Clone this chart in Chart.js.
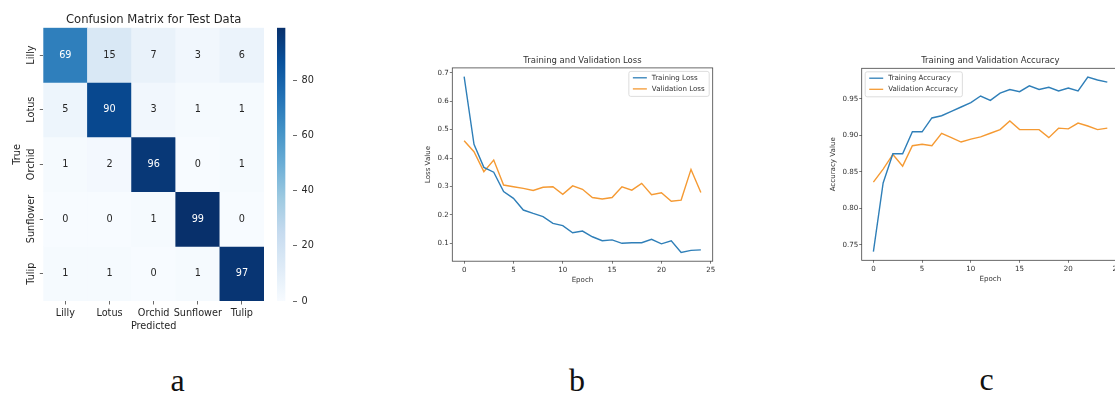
<!DOCTYPE html>
<html><head><meta charset="utf-8">
<script src="https://cdn.jsdelivr.net/npm/chart.js@4.4.1/dist/chart.umd.min.js"></script>
<style>
html,body{margin:0;padding:0;background:#fff;overflow:hidden;width:1115px;height:397px;}
#wrap{position:relative;width:1115px;height:397px;overflow:hidden;background:#fff;}
canvas{position:absolute;}
.lab{position:absolute;width:40px;text-align:center;font-family:"Liberation Serif",serif;font-size:32px;line-height:32px;color:#111;}
</style></head><body><div id="wrap">
<canvas id="hm" width="270" height="340" style="left:0;top:0"></canvas>
<canvas id="cb" width="60" height="340" style="left:270px;top:0"></canvas>
<canvas id="loss" width="310" height="255" style="left:410px;top:40px"></canvas>
<canvas id="acc" width="310" height="255" style="left:820px;top:40px"></canvas>
<div class="lab" style="left:157.5px;top:364px">a</div>
<div class="lab" style="left:557px;top:364px">b</div>
<div class="lab" style="left:966.5px;top:363px">c</div>
</div>
<script>
// ---------- data ----------
const classes = ['Lilly', 'Lotus', 'Orchid', 'Sunflower', 'Tulip'];
const confusion = [
  [69, 15, 7, 3, 6],
  [5, 90, 3, 1, 1],
  [1, 2, 96, 0, 1],
  [0, 0, 1, 99, 0],
  [1, 1, 0, 1, 97]
];
const colorbarTicks = [0, 20, 40, 60, 80];
const epochs = [0,1,2,3,4,5,6,7,8,9,10,11,12,13,14,15,16,17,18,19,20,21,22,23,24];
const trainLoss = [0.686,0.448,0.367,0.350,0.282,0.258,0.217,0.205,0.194,0.170,0.162,0.137,0.143,0.123,0.109,0.112,0.100,0.102,0.102,0.114,0.098,0.109,0.068,0.075,0.077];
const valLoss   = [0.461,0.422,0.352,0.393,0.305,0.299,0.293,0.286,0.297,0.299,0.272,0.302,0.290,0.261,0.256,0.261,0.299,0.287,0.311,0.271,0.278,0.248,0.252,0.360,0.279];
const trainAcc  = [0.741,0.835,0.875,0.875,0.905,0.905,0.924,0.927,0.933,0.939,0.945,0.954,0.948,0.958,0.963,0.960,0.968,0.963,0.966,0.961,0.965,0.961,0.980,0.976,0.973];
const valAcc    = [0.836,0.854,0.874,0.858,0.886,0.888,0.886,0.903,0.897,0.891,0.895,0.898,0.903,0.908,0.920,0.908,0.908,0.908,0.897,0.910,0.909,0.917,0.913,0.908,0.910];
const lossTicks = [0.1, 0.2, 0.3, 0.4, 0.5, 0.6, 0.7];
const accTicks = [0.75, 0.80, 0.85, 0.90, 0.95];
const epochTicks = [0, 5, 10, 15, 20, 25];

// ---------- helpers ----------
Chart.defaults.font.family = '"DejaVu Sans"';
const BLUES = ['#f7fbff','#deebf7','#c6dbef','#9ecae1','#6baed6','#4292c6','#2171b5','#08519c','#08306b'];
const colorMax = Math.max(...confusion.flat());
function hexToRgb(h){return [parseInt(h.slice(1,3),16),parseInt(h.slice(3,5),16),parseInt(h.slice(5,7),16)];}
function blues(t){
  t = Math.max(0, Math.min(1, t));
  const s = t * (BLUES.length - 1);
  const i = Math.min(BLUES.length - 2, Math.floor(s));
  const f = s - i;
  const a = hexToRgb(BLUES[i]), b = hexToRgb(BLUES[i+1]);
  return a.map((v,k)=>Math.round(v + (b[k]-v)*f));
}
function rgbStr(c){return 'rgb('+c[0]+','+c[1]+','+c[2]+')';}
function lum(rgb){
  const c = rgb.map(v=>{v/=255; return v<=0.03928 ? v/12.92 : Math.pow((v+0.055)/1.055, 2.4);});
  return 0.2126*c[0] + 0.7152*c[1] + 0.0722*c[2];
}
const TXT = '#262626';

// ---------- heatmap ----------
const hmFont = 9.7;
const heatmapText = {
  id: 'heatmapText',
  afterDatasetsDraw(chart){
    const ctx = chart.ctx, a = chart.chartArea;
    ctx.save();
    ctx.font = hmFont + 'px "DejaVu Sans"';
    ctx.textAlign = 'center'; ctx.textBaseline = 'middle';
    chart.data.datasets.forEach((ds, r) => {
      chart.getDatasetMeta(r).data.forEach((bar, c) => {
        const v = confusion[r][c];
        ctx.fillStyle = lum(blues(v / colorMax)) > 0.408 ? TXT : '#ffffff';
        ctx.fillText(String(v), bar.x, (bar.y + bar.base) / 2);
      });
    });
    const ys = chart.scales.y;
    ctx.fillStyle = TXT;
    classes.forEach((name, r) => {
      const y = ys.getPixelForValue(r + 0.5);
      ctx.save(); ctx.translate(a.left - 11.8, y); ctx.rotate(-Math.PI/2);
      ctx.fillText(name, 0, 0); ctx.restore();
    });
    ctx.save(); ctx.translate(17.5, (a.top + a.bottom)/2 - 10); ctx.rotate(-Math.PI/2);
    ctx.fillText('True', 0, 0); ctx.restore();
    ctx.font = '11.6px "DejaVu Sans"';
    ctx.textBaseline = 'alphabetic';
    ctx.fillText('Confusion Matrix for Test Data', (a.left + a.right)/2, a.top - 4.4);
    ctx.restore();
  }
};

new Chart(document.getElementById('hm'), {
  type: 'bar',
  data: {
    labels: classes,
    datasets: confusion.map((row, r) => ({
      label: classes[r],
      data: row.map(() => [r, r + 1]),
      backgroundColor: row.map(v => rgbStr(blues(v / colorMax))),
      borderWidth: 0,
      barPercentage: 1,
      categoryPercentage: 1,
      grouped: false
    }))
  },
  options: {
    responsive: false, animation: false, devicePixelRatio: 1, events: [],
    layout: { padding: { left: 0, right: 6, top: 27.7, bottom: 0 } },
    plugins: { legend: { display: false }, tooltip: { enabled: false } },
    scales: {
      x: {
        type: 'category',
        grid: { drawOnChartArea: false, drawTicks: true, tickLength: 3.5, offset: false, color: '#444', lineWidth: 0.8 },
        border: { display: false },
        ticks: { font: { size: hmFont }, color: TXT, padding: 2.7, maxRotation: 0, autoSkip: false },
        title: { display: true, text: 'Predicted', color: TXT, font: { size: hmFont }, padding: { top: 0, bottom: 8.2 } },
        afterFit: s => { s.height = 39; }
      },
      y: {
        type: 'linear', min: 0, max: 5, reverse: true,
        afterBuildTicks: s => { s.ticks = classes.map((c, i) => ({ value: i + 0.5 })); },
        grid: { drawOnChartArea: false, drawTicks: true, tickLength: 3.5, color: '#444', lineWidth: 0.8 },
        border: { display: false },
        ticks: { display: false },
        afterFit: s => { s.width = 43.3; }
      }
    }
  },
  plugins: [heatmapText]
});

// ---------- colorbar ----------
new Chart(document.getElementById('cb'), {
  type: 'bar',
  data: {
    labels: [''],
    datasets: [{
      data: [[0, colorMax]],
      borderWidth: 0,
      barPercentage: 1, categoryPercentage: 1,
      backgroundColor: (c) => {
        const ch = c.chart, ys = ch.scales.y;
        if (!ys || !ch.chartArea) return BLUES[0];
        const g = ch.ctx.createLinearGradient(0, ys.getPixelForValue(0), 0, ys.getPixelForValue(colorMax));
        BLUES.forEach((col, i) => g.addColorStop(i / (BLUES.length - 1), col));
        return g;
      }
    }]
  },
  options: {
    responsive: false, animation: false, devicePixelRatio: 1, events: [],
    layout: { padding: { left: 7, right: 0, top: 27.7, bottom: 39 } },
    plugins: { legend: { display: false }, tooltip: { enabled: false } },
    scales: {
      x: { display: false, offset: false },
      y: {
        position: 'right', min: 0, max: colorMax,
        afterBuildTicks: s => { s.ticks = colorbarTicks.map(v => ({ value: v })); },
        grid: { drawOnChartArea: false, drawTicks: true, tickLength: 4, color: '#444', lineWidth: 0.8 },
        border: { display: false },
        ticks: { font: { size: hmFont }, color: TXT, padding: 4.5, callback: v => String(v) },
        afterFit: s => { s.width = 37; }
      }
    }
  }
});

// ---------- line charts ----------
const BLUE = '#2f7fb8', ORANGE = '#f59a33';
const smallFont = 7.1;
const axesDecor = {
  id: 'axesDecor',
  afterDraw(chart, args, opts){
    const ctx = chart.ctx, a = chart.chartArea;
    ctx.save();
    ctx.strokeStyle = '#444'; ctx.lineWidth = 0.8;
    ctx.strokeRect(a.left, a.top, a.right - a.left, a.bottom - a.top);
    ctx.fillStyle = '#333';
    ctx.font = '8.5px "DejaVu Sans"';
    ctx.textAlign = 'center'; ctx.textBaseline = 'alphabetic';
    ctx.fillText(opts.title, (a.left + a.right)/2, a.top - 5);
    // legend
    ctx.font = smallFont + 'px "DejaVu Sans"';
    const ds = chart.data.datasets;
    const tw = Math.max(...ds.map(d => ctx.measureText(d.label).width));
    const w = 23 + tw + 4.5, h = 25, pad = 3.5;
    const x0 = opts.corner === 'ur' ? a.right - pad - w : a.left + pad;
    const y0 = a.top + pad;
    ctx.beginPath();
    if (ctx.roundRect) ctx.roundRect(x0, y0, w, h, 2); else ctx.rect(x0, y0, w, h);
    ctx.fillStyle = 'rgba(255,255,255,0.85)'; ctx.fill();
    ctx.strokeStyle = '#d4d4d4'; ctx.lineWidth = 0.8; ctx.stroke();
    ctx.textAlign = 'left'; ctx.textBaseline = 'middle';
    ds.forEach((d, i) => {
      const y = y0 + 6.4 + i * 11.1;
      ctx.beginPath(); ctx.moveTo(x0 + 4, y); ctx.lineTo(x0 + 18, y);
      ctx.strokeStyle = d.borderColor; ctx.lineWidth = 1.3; ctx.stroke();
      ctx.fillStyle = '#333';
      ctx.fillText(d.label, x0 + 23, y);
    });
    ctx.restore();
  }
};

function lineChart(id, cfg){
  return new Chart(document.getElementById(id), {
    type: 'line',
    data: {
      datasets: [
        { label: cfg.labels[0], data: epochs.map((e, i) => ({ x: e, y: cfg.series[0][i] })), borderColor: BLUE, borderWidth: 1.4, pointRadius: 0, tension: 0, fill: false },
        { label: cfg.labels[1], data: epochs.map((e, i) => ({ x: e, y: cfg.series[1][i] })), borderColor: ORANGE, borderWidth: 1.4, pointRadius: 0, tension: 0, fill: false }
      ]
    },
    options: {
      responsive: false, animation: false, devicePixelRatio: 1, events: [],
      layout: { padding: cfg.padding },
      plugins: { legend: { display: false }, tooltip: { enabled: false }, axesDecor: { title: cfg.title, corner: cfg.corner } },
      scales: {
        x: {
          type: 'linear', min: -1.2, max: 25.2,
          afterBuildTicks: s => { s.ticks = epochTicks.map(v => ({ value: v })); },
          grid: { drawOnChartArea: false, drawTicks: true, tickLength: 2.5, color: '#444', lineWidth: 0.7 },
          border: { display: false },
          ticks: { font: { size: smallFont }, color: '#333', padding: 2, maxRotation: 0, callback: v => String(v) },
          title: { display: true, text: 'Epoch', color: '#333', font: { size: smallFont }, padding: { top: 0, bottom: cfg.xTitlePad } },
          afterFit: s => { s.height = cfg.xHeight; }
        },
        y: {
          type: 'linear', min: cfg.ymin, max: cfg.ymax,
          afterBuildTicks: s => { s.ticks = cfg.yTicks.map(v => ({ value: v })); },
          grid: { drawOnChartArea: false, drawTicks: true, tickLength: 2.5, color: '#444', lineWidth: 0.7 },
          border: { display: false },
          ticks: { font: { size: smallFont }, color: '#333', padding: 1, callback: v => v.toFixed(cfg.dec) },
          title: { display: true, text: cfg.yTitle, color: '#333', font: { size: smallFont }, padding: { top: cfg.yTitlePad, bottom: 0 } },
          afterFit: s => { s.width = cfg.yWidth; }
        }
      }
    },
    plugins: [axesDecor]
  });
}

lineChart('loss', {
  labels: ['Training Loss', 'Validation Loss'], series: [trainLoss, valLoss],
  title: 'Training and Validation Loss', corner: 'ur',
  padding: { left: 0, right: 7.3, top: 27.9, bottom: 0 },
  ymin: 0.037, ymax: 0.717, yTicks: lossTicks, dec: 1, yTitle: 'Loss Value',
  yWidth: 42.3, xHeight: 33.8, yTitlePad: 14.2, xTitlePad: 10.7
});
lineChart('acc', {
  labels: ['Training Accuracy', 'Validation Accuracy'], series: [trainAcc, valAcc],
  title: 'Training and Validation Accuracy', corner: 'ul',
  padding: { left: 0, right: 11, top: 28.3, bottom: 0 },
  ymin: 0.729, ymax: 0.992, yTicks: accTicks, dec: 2, yTitle: 'Accuracy Value',
  yWidth: 41.7, xHeight: 34.7, yTitlePad: 8.7, xTitlePad: 11.7
});
</script>
</body></html>
